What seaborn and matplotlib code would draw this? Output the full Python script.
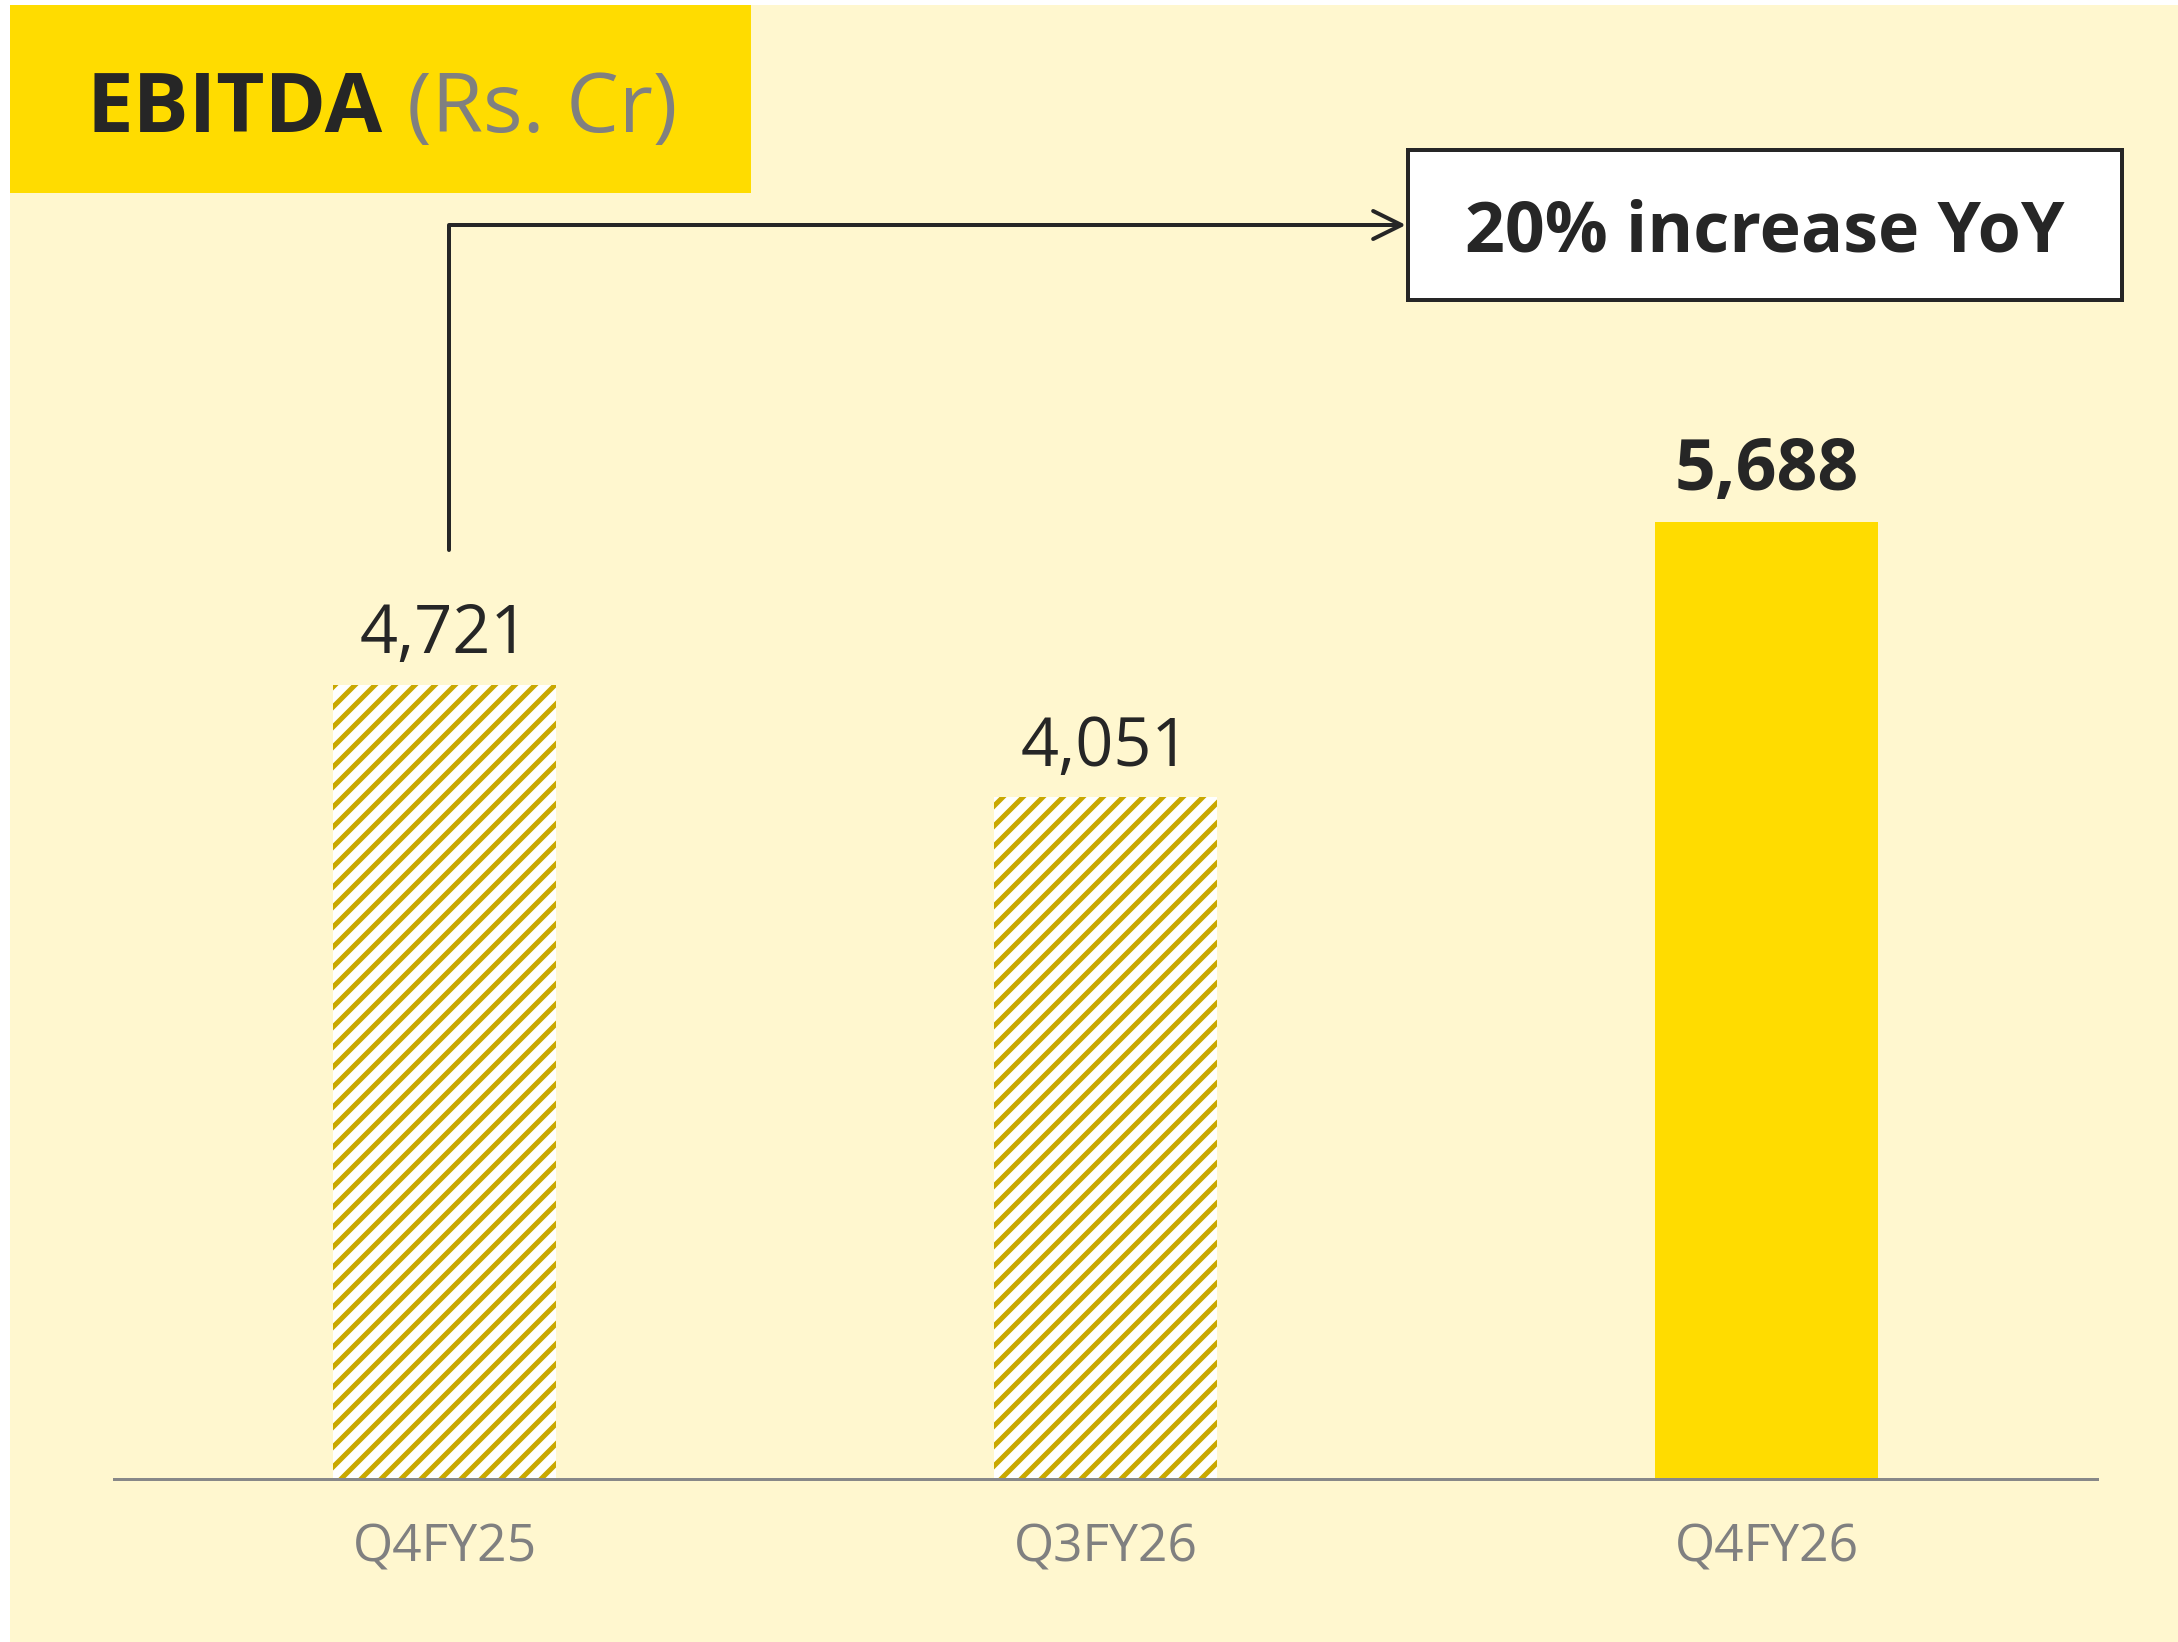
import matplotlib
matplotlib.use("Agg")
import matplotlib.pyplot as plt
import matplotlib.patches as mpatches
import seaborn as sns
import pandas as pd

# ---- data ----
categories = ["Q4FY25", "Q3FY26", "Q4FY26"]
values = [4721, 4051, 5688]
value_labels = ["4,721", "4,051", "5,688"]
highlight = [False, False, True]
title_main = "EBITDA"
title_unit = "(Rs. Cr)"
callout = "20% increase YoY"

# ---- style ----
CREAM = "#FFF7CF"
YELLOW = "#FFDC00"
GOLD = "#C9A800"
DARK = "#262626"
GRAY = "#808080"
AXIS = "#888888"

sns.set_theme(style="white")
plt.rcParams["font.family"] = ["Open Sans", "DejaVu Sans"]
plt.rcParams["hatch.linewidth"] = 3.0

W, H, DPI = 2178, 1642, 120
fig = plt.figure(figsize=(W / DPI, H / DPI), dpi=DPI, facecolor="white")

def fx(px):
    return px / W

def fy(py):
    return 1 - py / H

# cream panel (white strip at top and left)
fig.add_artist(mpatches.Rectangle((fx(10), 0), 1 - fx(10), fy(5), transform=fig.transFigure,
                                  facecolor=CREAM, edgecolor="none", zorder=0))
# title box
fig.add_artist(mpatches.Rectangle((fx(10), fy(193)), fx(751) - fx(10), fy(5) - fy(193),
                                  transform=fig.transFigure, facecolor=YELLOW,
                                  edgecolor="none", zorder=1))
t1 = fig.text(fx(87), fy(132), title_main, fontsize=50, fontweight="bold", color=DARK,
              va="baseline", ha="left", zorder=2)
fig.canvas.draw()
ext = t1.get_window_extent()
fig.text(fx(ext.x1 + 24), fy(132), title_unit, fontsize=50, color=GRAY,
         va="baseline", ha="left", zorder=2)

# axes
ax_left, ax_right, ax_bottom = 114, 2097, 1479
ymax = 8000
ax_top = ax_bottom - ymax * 0.16825
ax = fig.add_axes([fx(ax_left), fy(ax_bottom), fx(ax_right) - fx(ax_left), fy(ax_top) - fy(ax_bottom)])
ax.patch.set_alpha(0)

df = pd.DataFrame({"period": categories, "value": values})
sns.barplot(data=df, x="period", y="value", ax=ax, width=0.336, color=YELLOW,
            errorbar=None, saturation=1)

for patch, hl in zip(ax.patches, highlight):
    if hl:
        patch.set_facecolor(YELLOW)
        patch.set_edgecolor(YELLOW)
        patch.set_linewidth(0)
    else:
        patch.set_facecolor("white")
        patch.set_edgecolor(GOLD)
        patch.set_hatch("//")
        patch.set_linewidth(0)
        if hasattr(patch, "set_hatch_linewidth"):
            patch.set_hatch_linewidth(3.0)

for i, (v, lab, hl) in enumerate(zip(values, value_labels, highlight)):
    ax.annotate(lab, xy=(i, v), xytext=(0, 19), textcoords="offset points",
                ha="center", va="baseline", fontsize=43 if hl else 40,
                fontweight="bold" if hl else "normal", color=DARK)

ax.set_xlim(-0.5, 2.5)
ax.set_ylim(0, ymax)
ax.set_xlabel("")
ax.set_ylabel("")
ax.set_yticks([])
for s in ["left", "right", "top"]:
    ax.spines[s].set_visible(False)
ax.spines["bottom"].set_color(AXIS)
ax.spines["bottom"].set_linewidth(1.8)
ax.tick_params(axis="x", length=0, pad=26, labelsize=31, labelcolor=GRAY)

# callout box
bx0, bx1, by0, by1 = 1408, 2122, 150, 300
fig.add_artist(mpatches.Rectangle((fx(bx0), fy(by1)), fx(bx1) - fx(bx0), fy(by0) - fy(by1),
                                  transform=fig.transFigure, facecolor="white",
                                  edgecolor=DARK, linewidth=2.4, zorder=3))
fig.text(fx((bx0 + bx1) / 2), fy(251), callout, fontsize=42, fontweight="bold",
         color=DARK, ha="center", va="baseline", zorder=4)

# connector arrow
ax.annotate("", xy=(fx(bx0 - 2), fy(225)), xycoords="figure fraction",
            xytext=(fx(449), fy(550)), textcoords="figure fraction",
            arrowprops=dict(arrowstyle="->,head_length=0.85,head_width=0.42",
                            connectionstyle="angle,angleA=90,angleB=0,rad=0",
                            color=DARK, lw=2.4, shrinkA=0, shrinkB=0,
                            mutation_scale=20), annotation_clip=False)

fig.savefig("out.png", dpi=DPI, facecolor="white")
